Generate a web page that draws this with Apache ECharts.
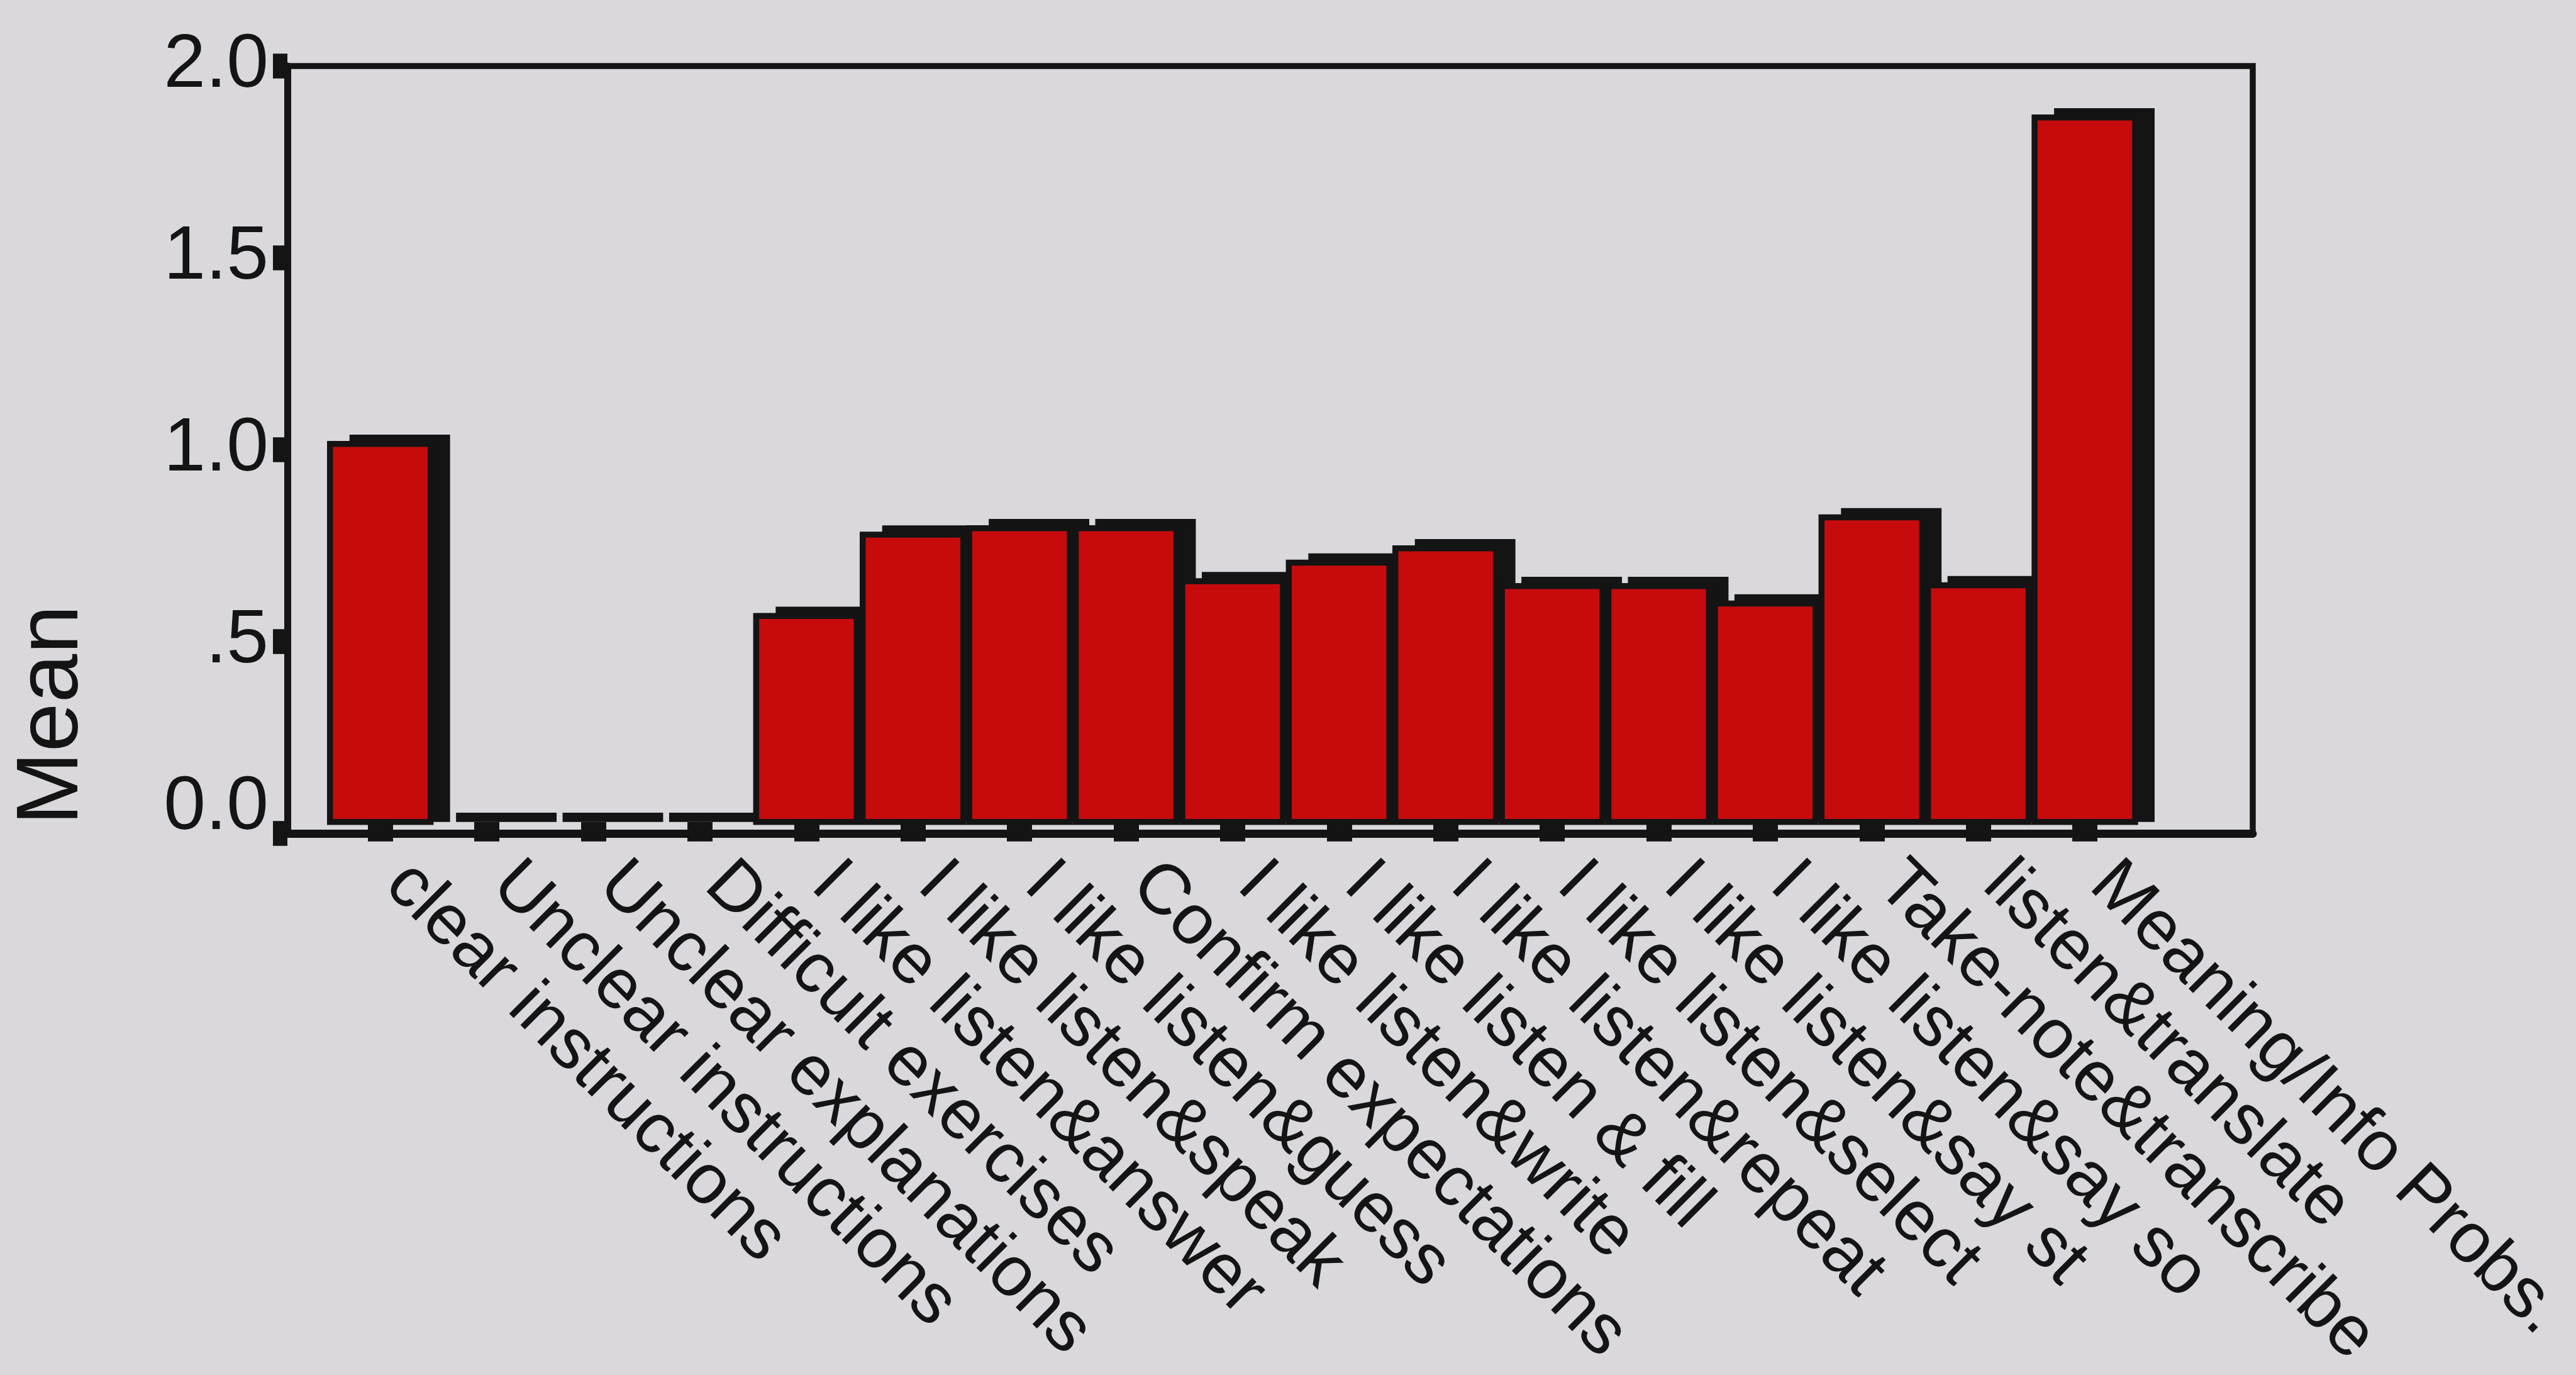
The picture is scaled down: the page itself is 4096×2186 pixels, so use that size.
<!DOCTYPE html>
<html>
<head>
<meta charset="utf-8">
<title>Mean ratings</title>
<script src="https://cdn.jsdelivr.net/npm/echarts@6/dist/echarts.min.js"></script>
<style>
  html, body { margin: 0; padding: 0; background: #dad8dd; }
  #chart { width: 4096px; height: 2186px; }
</style>
</head>
<body>
<div id="chart"></div>
<script>
// Category names, in plotting order
const categories = [
  'clear instructions',
  'Unclear instructions',
  'Unclear explanations',
  'Difficult exercises',
  'I like listen&answer',
  'I like listen&speak',
  'I like listen&guess',
  'Confirm expectations',
  'I like listen&write',
  'I like listen & fill',
  'I like listen&repeat',
  'I like listen&select',
  'I like listen&say st',
  'I like listen&say so',
  'Take-note&transcribe',
  'listen&translate',
  'Meaning/Info Probs.'
];

// Mean score per category
const means = [1.00, 0, 0, 0, 0.545, 0.76, 0.777, 0.777, 0.637, 0.686, 0.724, 0.624, 0.624, 0.578, 0.806, 0.626, 1.864];

// Value axis ticks and how they are printed
const yTicks = [0, 0.5, 1, 1.5, 2];
const yTickLabels = ['0.0', '.5', '1.0', '1.5', '2.0'];
const axisTitle = 'Mean';

const INK = '#141414';
const BAR_RED = '#c70b0d';
const FONT = '"Liberation Sans", Arial, Helvetica, sans-serif';
const OUTLINE = 9.5;     // bar outline width
const SHADOW_DX = 31;    // drop shadow shift to the right
const SHADOW_DY = 10;    // drop shadow shift upwards

// Each bar: a black drop shadow behind a red, black-outlined block
function renderBar(params, api) {
  const v = api.value(1);
  const idx = api.value(0);
  const base = api.coord([idx, 0]);
  const top = api.coord([idx, v]);
  const bandW = api.size([1, 0])[0];
  const rectW = bandW - OUTLINE;
  const x0 = base[0] - rectW / 2;
  const h = base[1] - top[1];
  const shadowTop = top[1] - OUTLINE / 2 - SHADOW_DY;
  const children = [{
    type: 'rect',
    shape: { x: x0 + SHADOW_DX, y: shadowTop, width: rectW, height: base[1] - shadowTop },
    style: { fill: INK }
  }];
  if (h > 0.5) {
    children.push({
      type: 'rect',
      shape: { x: x0, y: top[1], width: rectW, height: h },
      style: { fill: BAR_RED, stroke: INK, lineWidth: OUTLINE }
    });
  }
  return { type: 'group', children: children };
}

const chart = echarts.init(document.getElementById('chart'), null, { renderer: 'canvas' });

chart.setOption({
  backgroundColor: '#dad8dd',
  animation: false,
  grid: [
    // plot frame
    { left: 457, right: 514, top: 105, bottom: 861, show: true,
      borderColor: INK, borderWidth: 9.5, backgroundColor: 'transparent' },
    // band occupied by the bars
    { left: 520, right: 615, top: 105, bottom: 861 }
  ],
  xAxis: [
    {
      gridIndex: 0, type: 'value', min: 0, max: 1, z: 5,
      axisLine: { show: true, onZero: false, lineStyle: { color: INK, width: 13 } },
      axisTick: { show: false }, axisLabel: { show: false }, splitLine: { show: false }
    },
    {
      gridIndex: 1, type: 'category', data: categories, boundaryGap: true, z: 5,
      axisLine: { show: false },
      axisTick: { show: true, alignWithLabel: true, length: 31, lineStyle: { color: INK, width: 40 } },
      axisLabel: {
        interval: 0, rotate: -45, margin: 56, padding: [0, 0, 0, 37],
        fontSize: 113, fontFamily: FONT, color: INK
      },
      splitLine: { show: false }
    }
  ],
  yAxis: [
    {
      gridIndex: 0, type: 'value', min: 0, max: 2, interval: 0.5, z: 5,
      axisLine: { show: true, onZero: false, lineStyle: { color: INK, width: 11 } },
      axisTick: { show: true, length: 23, lineStyle: { color: INK, width: 39.5 } },
      axisLabel: {
        margin: 30, fontSize: 120, fontFamily: FONT, color: INK,
        lineHeight: 80, padding: [0, 0, 56, 0],
        formatter: function (value) {
          const s = yTickLabels[yTicks.indexOf(value)];
          return value === 0 ? s + '\n' : s;
        }
      },
      splitLine: { show: false }
    },
    { gridIndex: 1, type: 'value', min: 0, max: 2, show: false }
  ],
  graphic: [{
    type: 'text',
    x: 84, y: 1137,
    rotation: Math.PI / 2,
    style: {
      text: axisTitle, fontSize: 140, fontFamily: FONT, fill: INK,
      align: 'center', verticalAlign: 'middle',
      textAlign: 'center', textVerticalAlign: 'middle'
    }
  }],
  series: [{
    type: 'custom',
    xAxisIndex: 1, yAxisIndex: 1,
    silent: true,
    z: 2,
    data: means.map(function (v, i) { return [i, v]; }),
    encode: { x: 0, y: 1 },
    renderItem: renderBar
  }]
});
</script>
</body>
</html>
